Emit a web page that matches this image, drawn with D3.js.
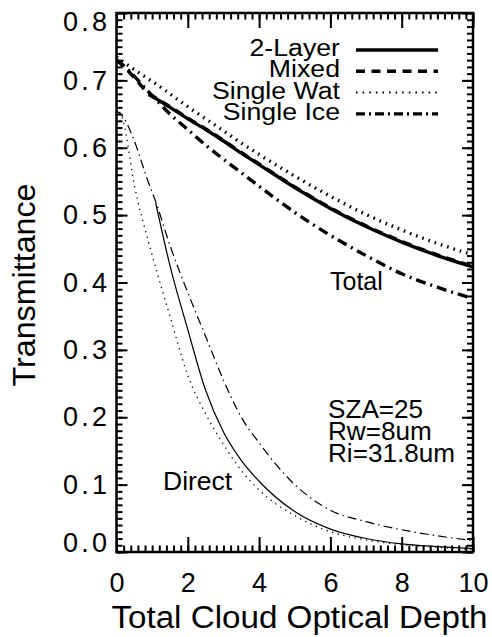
<!DOCTYPE html>
<html>
<head>
<meta charset="UTF-8">
<title>Transmittance vs optical depth</title>
<script src="https://d3js.org/d3.v7.min.js"></script>
<style>
  body { margin: 0; background: #fff; }
  svg { display: block; font-family: 'Liberation Sans', Arial, sans-serif; }
</style>
</head>
<body>
<div id="chart"></div>
<script>
// optical depth grid shared by all curves (null = curve not drawn there)
const tau = [0, 0.2, 0.5, 0.9, 1.1, 1.5, 2, 2.5, 3, 3.5, 4, 5, 6, 7, 8, 9, 10];

// total transmittance
const totTwoLayer = [null, null, null, 0.679, 0.673, 0.660, 0.643, 0.627, 0.610, 0.592, 0.575, 0.541, 0.510, 0.483, 0.460, 0.440, 0.423];
const totMixed    = [0.730, 0.721, 0.704, 0.681, 0.674, 0.661, 0.644, 0.628, 0.611, 0.593, 0.576, 0.542, 0.511, 0.484, 0.461, 0.441, 0.424];
const totWat      = [0.735, 0.727, 0.716, 0.702, 0.695, 0.680, 0.661, 0.643, 0.625, 0.607, 0.590, 0.558, 0.528, 0.501, 0.478, 0.458, 0.441];
const totIce      = [0.730, 0.722, 0.706, 0.683, 0.672, 0.650, 0.627, 0.604, 0.583, 0.563, 0.543, 0.504, 0.470, 0.440, 0.413, 0.393, 0.376];

// direct transmittance
const dirTwoLayer = [null, null, null, null, 0.518, 0.425, 0.330, 0.240, 0.178, 0.136, 0.105, 0.060, 0.034, 0.020, 0.012, 0.008, 0.005];
const dirWat      = [0.660, 0.637, 0.545, 0.460, 0.422, 0.350, 0.262, 0.205, 0.160, 0.121, 0.092, 0.054, 0.030, 0.018, 0.011, 0.007, 0.004];
const dirIce      = [0.655, 0.645, 0.610, 0.548, 0.520, 0.455, 0.385, 0.320, 0.255, 0.200, 0.162, 0.100, 0.062, 0.045, 0.033, 0.024, 0.017];

const legendLabels = ["2-Layer", "Mixed", "Single Wat", "Single Ice"];
const notes = ["SZA=25", "Rw=8um", "Ri=31.8um"];
const xTicks = [0, 2, 4, 6, 8, 10];
const yTicks = [0, 0.1, 0.2, 0.3, 0.4, 0.5, 0.6, 0.7, 0.8];

const W = 492, H = 637;
const mLeft = 116.5, mRight = 473, mTop = 13, mBottom = 552;

const svg = d3.select("#chart").append("svg")
  .attr("width", W).attr("height", H);

const x = d3.scaleLinear().domain([0, 10]).range([mLeft, mRight]);
const y = d3.scaleLinear().domain([0, 0.8]).range([mBottom, mTop]);

const dashes = {
  solid: null,
  dashed: "9,6.5",
  dotted: "1.6,5",
  dashdot: "10,5,2,5"
};
const thinDashes = {
  solid: null,
  dotted: "1.3,4.5",
  dashdot: "9,4,1.5,4"
};

const line = d3.line()
  .defined(d => d[1] != null)
  .x(d => x(d[0]))
  .y(d => y(d[1]))
  .curve(d3.curveMonotoneX);

const plot = svg.append("g");

function drawCurve(vals, dash, width) {
  plot.append("path")
    .datum(tau.map((t, i) => [t, vals[i]]))
    .attr("d", line)
    .attr("fill", "none")
    .attr("stroke", "#000")
    .attr("stroke-width", width)
    .attr("stroke-dasharray", dash);
}

// thick: total
drawCurve(totMixed, dashes.dashed, 3.4);
drawCurve(totTwoLayer, dashes.solid, 3.4);
drawCurve(totWat, dashes.dotted, 3.4);
drawCurve(totIce, dashes.dashdot, 3.4);
// thin: direct
drawCurve(dirTwoLayer, thinDashes.solid, 1.2);
drawCurve(dirWat, thinDashes.dotted, 1.3);
drawCurve(dirIce, thinDashes.dashdot, 1.2);

// axes: major + minor ticks on all four sides, pointing inward
const xMinor = d3.range(0, 10.001, 0.2);
const yMinor = d3.range(0, 0.8001, 0.01);
const majX = 15, minX = 6.5, majY = 11, minY = 6;

function styleAxis(g) {
  g.selectAll(".tick line").attr("stroke", "#000").attr("stroke-width", 2);
  g.select(".domain").remove();
}

function addAxis(axis, tx, ty) {
  return svg.append("g")
    .attr("transform", `translate(${tx},${ty})`)
    .call(axis)
    .call(styleAxis);
}

addAxis(d3.axisBottom(x).tickValues(xMinor).tickSizeInner(-minX).tickSizeOuter(0).tickFormat(""), 0, mBottom);
addAxis(d3.axisTop(x).tickValues(xMinor).tickSizeInner(-minX).tickSizeOuter(0).tickFormat(""), 0, mTop);
addAxis(d3.axisLeft(y).tickValues(yMinor).tickSizeInner(-minY).tickSizeOuter(0).tickFormat(""), mLeft, 0);
addAxis(d3.axisRight(y).tickValues(yMinor).tickSizeInner(-minY).tickSizeOuter(0).tickFormat(""), mRight, 0);

const xAxis = addAxis(d3.axisBottom(x).tickValues(xTicks).tickSizeInner(-majX).tickSizeOuter(0)
  .tickPadding(21).tickFormat(d3.format("d")), 0, mBottom);
addAxis(d3.axisTop(x).tickValues(xTicks).tickSizeInner(-majX).tickSizeOuter(0).tickFormat(""), 0, mTop);
const yAxis = addAxis(d3.axisLeft(y).tickValues(yTicks).tickSizeInner(-majY).tickSizeOuter(0)
  .tickPadding(9.5).tickFormat(d3.format(".1f")), mLeft, 0);
addAxis(d3.axisRight(y).tickValues(yTicks).tickSizeInner(-majY).tickSizeOuter(0).tickFormat(""), mRight, 0);

xAxis.selectAll("text").attr("font-size", 27).attr("font-family", null).attr("fill", "#000");
yAxis.selectAll("text")
  .attr("font-size", 27).attr("font-family", null).attr("fill", "#000")
  .attr("y", d => d === 0.8 ? 9 : d === 0 ? -9 : 0)
  .attr("textLength", 44);

// frame
svg.append("rect")
  .attr("x", mLeft).attr("y", mTop)
  .attr("width", mRight - mLeft).attr("height", mBottom - mTop)
  .attr("fill", "none").attr("stroke", "#000").attr("stroke-width", 2.5);

// widen a text a little, like the original plotting font
function stretch(sel, f) {
  sel.each(function () {
    const w = this.getComputedTextLength();
    d3.select(this).attr("textLength", w * f).attr("lengthAdjust", "spacingAndGlyphs");
  });
}

// axis titles
svg.append("text")
  .attr("x", 299.5).attr("y", 628)
  .attr("text-anchor", "middle").attr("font-size", 31)
  .text("Total Cloud Optical Depth")
  .call(stretch, 1.07);
svg.append("text")
  .attr("transform", `translate(35,285) rotate(-90)`)
  .attr("text-anchor", "middle").attr("font-size", 31)
  .text("Transmittance")
  .call(stretch, 1.04);

// legend
const legendStyles = [dashes.solid, dashes.dashed, "1.6,5", "9,4,2,4"];
const legendWidths = [3.4, 3.4, 2, 3.4];
legendLabels.forEach((lab, i) => {
  const base = 56 + i * 21.3;
  svg.append("text")
    .attr("x", 340).attr("y", base)
    .attr("text-anchor", "end").attr("font-size", 23)
    .text(lab)
    .call(stretch, 1.16);
  svg.append("line")
    .attr("x1", 356).attr("x2", 438)
    .attr("y1", base - 6).attr("y2", base - 6)
    .attr("stroke", "#000")
    .attr("stroke-width", legendWidths[i])
    .attr("stroke-dasharray", legendStyles[i]);
});

// annotations
svg.append("text").attr("x", 330).attr("y", 290).attr("font-size", 25).text("Total");
svg.append("text").attr("x", 163).attr("y", 490).attr("font-size", 25).text("Direct").call(stretch, 1.06);
notes.forEach((t, i) => {
  svg.append("text")
    .attr("x", 328).attr("y", 418 + i * 22)
    .attr("font-size", 25)
    .text(t)
    .call(stretch, 1.045);
});
</script>
</body>
</html>
